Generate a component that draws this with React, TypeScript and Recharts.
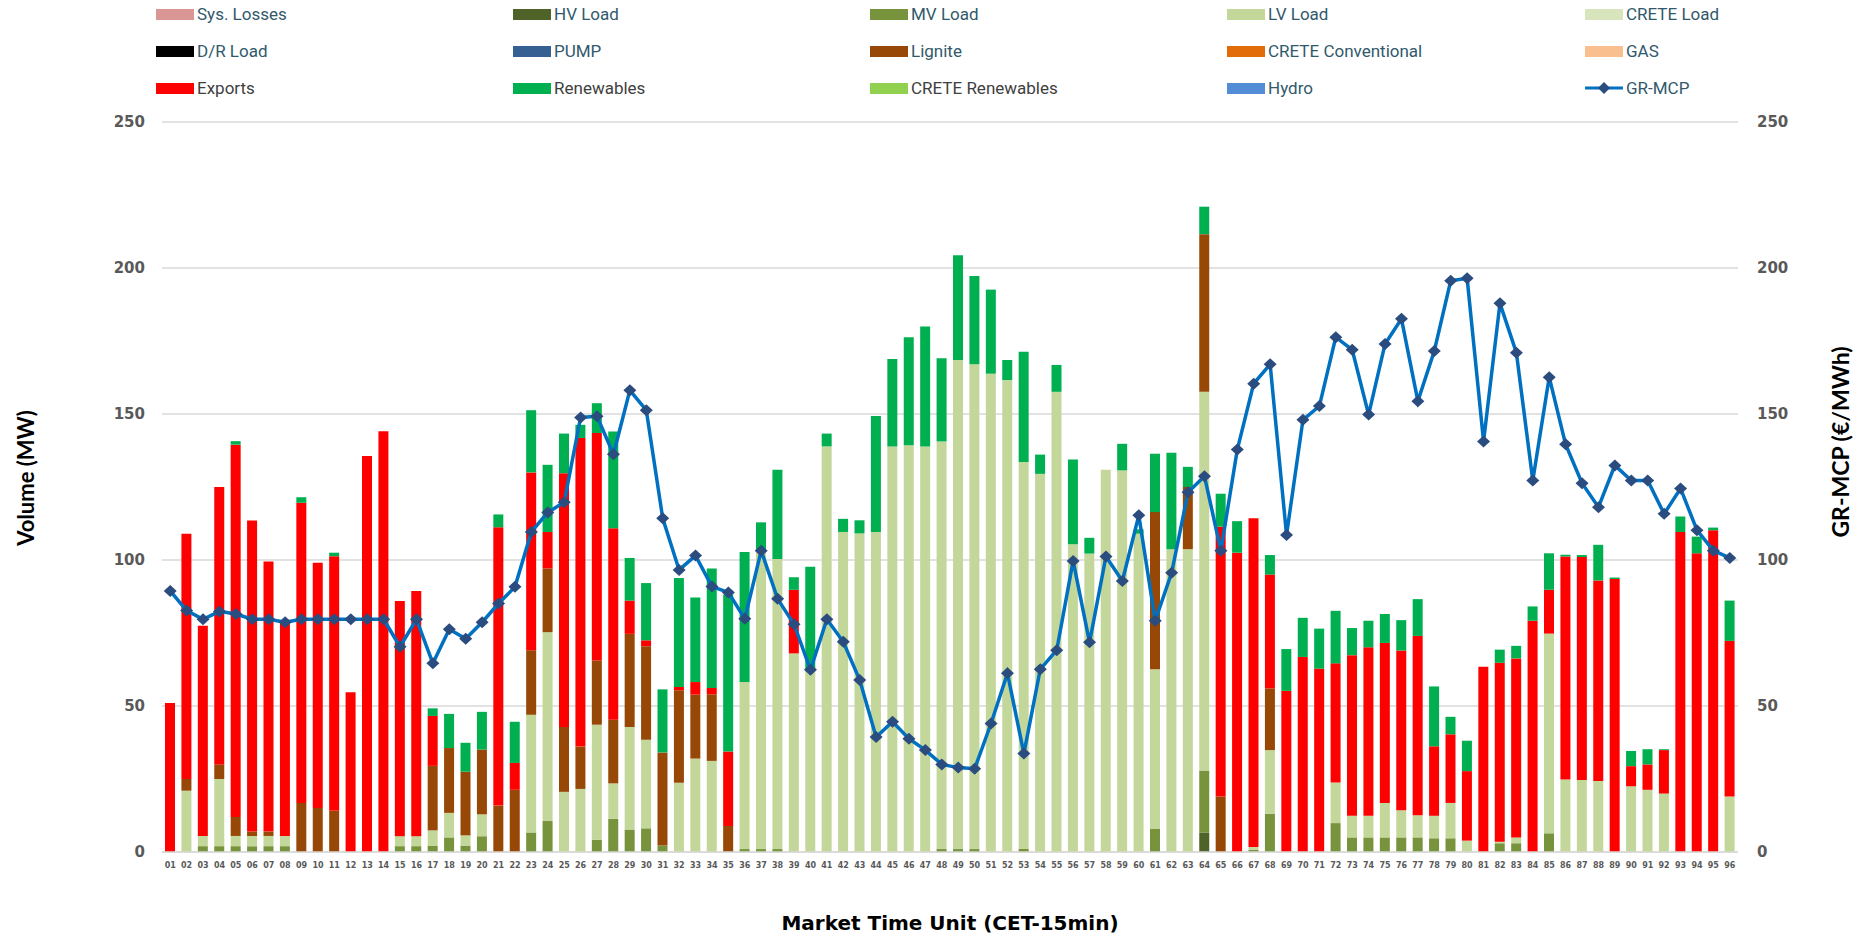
import { ComposedChart, Bar, Line, XAxis, YAxis, CartesianGrid } from 'recharts';

// market time units, 15-min resolution
const mtu = [
  '01', '02', '03', '04', '05', '06', '07', '08', '09', '10', '11', '12',
  '13', '14', '15', '16', '17', '18', '19', '20', '21', '22', '23', '24',
  '25', '26', '27', '28', '29', '30', '31', '32', '33', '34', '35', '36',
  '37', '38', '39', '40', '41', '42', '43', '44', '45', '46', '47', '48',
  '49', '50', '51', '52', '53', '54', '55', '56', '57', '58', '59', '60',
  '61', '62', '63', '64', '65', '66', '67', '68', '69', '70', '71', '72',
  '73', '74', '75', '76', '77', '78', '79', '80', '81', '82', '83', '84',
  '85', '86', '87', '88', '89', '90', '91', '92', '93', '94', '95', '96',
];

const hvLoad = [
  0, 0, 0, 0, 0, 0, 0, 0, 0, 0, 0, 0,
  0, 0, 0, 0, 0, 0, 0, 0, 0, 0, 0, 0,
  0, 0, 0, 0, 0, 0, 0, 0, 0, 0, 0, 0,
  0, 0, 0, 0, 0, 0, 0, 0, 0, 0, 0, 0,
  0, 0, 0, 0, 0, 0, 0, 0, 0, 0, 0, 0,
  0, 0, 0, 6.7, 0, 0, 0, 0, 0, 0, 0, 0,
  0, 0, 0, 0, 0, 0, 0, 0, 0, 0, 0, 0,
  0, 0, 0, 0, 0, 0, 0, 0, 0, 0, 0, 0,
];

const mvLoad = [
  0, 0, 2, 2, 2, 2, 2, 2, 0, 0, 0, 0,
  0, 0, 2, 2, 2.2, 5, 2.2, 5.4, 0, 0, 6.7, 10.6,
  0, 0, 4.2, 11.4, 7.7, 8.1, 2.2, 0, 0, 0, 0, 1,
  1, 1, 0, 0, 0, 0, 0, 0, 0, 0, 0, 1,
  1, 1, 0, 0, 1, 0, 0, 0, 0, 0, 0, 0,
  7.9, 0, 0, 21.2, 0, 0, 0.8, 13.1, 0, 0, 0, 9.9,
  5, 5, 5, 5, 5, 4.7, 4.7, 0, 0, 3, 3, 0,
  6.4, 0, 0, 0, 0, 0, 0, 0, 0, 0, 0, 0,
];

const lvLoad = [
  0, 21, 3.5, 23, 3.5, 3.5, 3.5, 3.5, 0, 0, 0, 0,
  0, 0, 3.4, 3.4, 5.2, 8.4, 3.5, 7.5, 0, 0, 40.3, 64.7,
  20.6, 21.6, 39.4, 12.1, 35.1, 30.3, 0, 23.7, 32, 31.2, 0, 57.2,
  102, 99.3, 68, 62, 138.9, 109.6, 109.1, 109.6, 138.9, 139.3, 138.9, 139.6,
  167.5, 166, 163.8, 161.6, 132.6, 129.5, 157.6, 105.4, 102.2, 130.9, 130.7, 109,
  54.7, 103.7, 103.7, 129.7, 0, 0, 0.9, 21.8, 0, 0, 0, 13.9,
  7.4, 7.4, 11.8, 9.3, 7.6, 7.7, 12.1, 3.9, 0, 0.5, 2, 0,
  68.4, 24.8, 24.7, 24.3, 0, 22.5, 21.3, 20, 0, 0, 0, 19,
];

const lignite = [
  0, 4, 0, 5, 6.5, 1.5, 1.5, 0, 16.8, 15.1, 14.1, 0,
  0, 0, 0, 0, 22.1, 22.2, 21.8, 22.2, 15.9, 21.3, 22.1, 21.8,
  22.2, 14.5, 22, 21.8, 31.9, 32.1, 31.9, 31.7, 21.9, 22.8, 8.9, 0,
  0, 0, 0, 0, 0, 0, 0, 0, 0, 0, 0, 0,
  0, 0, 0, 0, 0, 0, 0, 0, 0, 0, 0, 0,
  53.8, 0, 21.3, 54, 19, 0, 0, 21.1, 0, 0, 0, 0,
  0, 0, 0, 0, 0, 0, 0, 0, 0, 0, 0, 0,
  0, 0, 0, 0, 0, 0, 0, 0, 0, 0, 0, 0,
];

const exportsMw = [
  51, 84, 72, 95, 127.5, 106.5, 92.5, 73, 102.8, 84, 87.2, 54.7,
  135.6, 144.1, 80.6, 84, 17.1, 0, 0, 0, 95.3, 9.2, 60.9, 12.5,
  86.9, 105.7, 77.9, 65.6, 11.4, 2, 0, 1.1, 4.3, 2.2, 25.5, 0,
  0, 0, 21.8, 0, 0, 0, 0, 0, 0, 0, 0, 0,
  0, 0, 0, 0, 0, 0, 0, 0, 0, 0, 0, 0,
  0, 0, 0, 0, 92.4, 102.5, 112.6, 39, 55.2, 66.8, 62.8, 40.8,
  55, 57.7, 54.8, 54.7, 61.4, 23.8, 23.5, 23.8, 63.4, 61.3, 61.3, 79.2,
  15, 76.4, 76.3, 68.7, 93.5, 6.9, 8.7, 14.9, 109.6, 102.3, 110.2, 53.3,
];

const renewables = [
  0, 0, 0, 0, 1.2, 0, 0, 0, 1.9, 0, 1.2, 0,
  0, 0, 0, 0, 2.6, 11.7, 9.9, 12.9, 4.4, 14.1, 21.3, 23,
  13.6, 4.5, 10.2, 33.1, 14.6, 19.6, 21.6, 37.3, 29, 40.9, 53.7, 44.5,
  9.9, 30.6, 4.3, 35.7, 4.4, 4.5, 4.5, 39.7, 29.9, 37, 41.1, 28.5,
  35.9, 30.3, 28.8, 6.9, 37.7, 6.6, 9.2, 29, 5.4, 0, 9.1, 1.5,
  20, 33, 6.9, 9.4, 11.3, 10.8, 0, 6.7, 14.3, 13.4, 13.7, 18,
  9.3, 9.1, 9.9, 10.4, 12.6, 20.5, 6, 10.4, 0, 4.5, 4.3, 4.9,
  12.5, 0.6, 0.7, 12.2, 0.5, 5.2, 5.2, 0.3, 5.3, 5.7, 0.9, 13.8,
];

// GR-MCP in €/MWh
const grMcp = [
  89.4, 82.7, 79.7, 82.4, 81.5, 79.7, 79.7, 78.7, 79.7, 79.7, 79.7, 79.7,
  79.7, 79.7, 70.3, 79.7, 64.6, 76.3, 73, 78.7, 85.1, 90.8, 109.6, 116.3,
  119.8, 148.8, 149.2, 136.2, 158.1, 151.3, 114.3, 96.6, 101.5, 90.9, 88.9, 79.9,
  103.2, 86.7, 78, 62.4, 79.7, 72, 58.9, 39.4, 44.6, 38.8, 34.9, 30,
  28.9, 28.5, 44, 61.2, 33.7, 62.6, 69.1, 99.7, 71.8, 101.2, 92.8, 115.3,
  79.2, 95.6, 123.2, 128.7, 103.2, 137.8, 160.4, 167, 108.6, 148, 152.7, 176.3,
  172, 149.8, 174, 182.6, 154.4, 171.6, 195.6, 196.5, 140.6, 187.9, 171, 127.2,
  162.6, 139.6, 126.3, 118.1, 132.4, 127.2, 127.2, 115.8, 124.5, 110.2, 103.2, 100.7,
];

const axisTicks = [0, 50, 100, 150, 200, 250];

const legendItems = [
  { name: 'Sys. Losses', color: '#DA9694' },
  { name: 'HV Load', color: '#4F6228' },
  { name: 'MV Load', color: '#77933C' },
  { name: 'LV Load', color: '#C4D79B' },
  { name: 'CRETE Load', color: '#D8E4BC' },
  { name: 'D/R Load', color: '#000000' },
  { name: 'PUMP', color: '#366092' },
  { name: 'Lignite', color: '#974706' },
  { name: 'CRETE Conventional', color: '#E26B0A' },
  { name: 'GAS', color: '#FABF8F' },
  { name: 'Exports', color: '#FF0000' },
  { name: 'Renewables', color: '#00B050' },
  { name: 'CRETE Renewables', color: '#92D050' },
  { name: 'Hydro', color: '#538DD5' },
  { name: 'GR-MCP', color: '#0070C0' },
];

const data = mtu.map((m, i) => ({
  mtu: m,
  hv: hvLoad[i],
  mv: mvLoad[i],
  lv: lvLoad[i],
  lignite: lignite[i],
  exports: exportsMw[i],
  renewables: renewables[i],
  mcp: grMcp[i],
}));

const tickStyle = { fill: '#595959', fontSize: 15, fontWeight: 700, fontFamily: 'DejaVu Sans' };

function Diamond(props: any) {
  const { cx, cy, index } = props;
  if (cx == null || cy == null) return null;
  return (
    <path
      key={index}
      d={`M${cx},${cy - 6} L${cx + 6.5},${cy} L${cx},${cy + 6} L${cx - 6.5},${cy} Z`}
      fill="#2B4C7E"
    />
  );
}

function Legend() {
  const colX = [156, 513, 870, 1227, 1585];
  const rowY = [14, 51, 88];
  return (
    <>
      {legendItems.map((item, i) => {
        const x = colX[i % 5];
        const y = rowY[Math.floor(i / 5)];
        const isLine = item.name === 'GR-MCP';
        const grey = item.name === 'Exports' || item.name.includes('Renewables');
        return (
          <div
            key={item.name}
            style={{ position: 'absolute', left: x, top: y - 12, height: 24, display: 'flex', alignItems: 'center' }}
          >
            {isLine ? (
              <svg width={38} height={14}>
                <line x1={0} y1={7} x2={38} y2={7} stroke="#0070C0" strokeWidth={3} />
                <path d="M19,1 L25,7 L19,13 L13,7 Z" fill="#2B4C7E" />
              </svg>
            ) : (
              <div style={{ width: 38, height: 11, background: item.color }} />
            )}
            <span
              style={{
                marginLeft: 3,
                fontFamily: 'Roboto',
                fontSize: 17,
                color: grey ? '#404040' : '#31596B',
                whiteSpace: 'nowrap',
              }}
            >
              {item.name}
            </span>
          </div>
        );
      })}
    </>
  );
}

export default function App() {
  return (
    <div style={{ position: 'absolute', left: 0, top: 0, width: 1872, height: 941, background: '#fff' }}>
      <ComposedChart
        width={1872}
        height={941}
        data={data}
        margin={{ top: 122, right: 0, bottom: 19, left: 0 }}
        barSize={10}
      >
        <CartesianGrid yAxisId="left" vertical={false} stroke="#D9D9D9" strokeWidth={1.5} />
        <XAxis
          dataKey="mtu"
          interval={0}
          tickLine={false}
          axisLine={{ stroke: '#D9D9D9', strokeWidth: 1.5 }}
          height={70}
          tickSize={0}
          tickMargin={10}
          tick={{ fill: '#595959', fontSize: 8, fontWeight: 700, fontFamily: 'DejaVu Sans' }}
        />
        <YAxis
          yAxisId="left"
          domain={[0, 250]}
          ticks={axisTicks}
          width={162}
          axisLine={false}
          tickLine={false}
          tickSize={0}
          tickMargin={17}
          tick={tickStyle}
        />
        <YAxis
          yAxisId="right"
          orientation="right"
          domain={[0, 250]}
          ticks={axisTicks}
          width={134}
          axisLine={false}
          tickLine={false}
          tickSize={0}
          tickMargin={19}
          tick={{ ...tickStyle, textAnchor: 'start' }}
        />
        <Bar yAxisId="left" dataKey="hv" stackId="a" fill="#4F6228" isAnimationActive={false} />
        <Bar yAxisId="left" dataKey="mv" stackId="a" fill="#77933C" isAnimationActive={false} />
        <Bar yAxisId="left" dataKey="lv" stackId="a" fill="#C4D79B" isAnimationActive={false} />
        <Bar yAxisId="left" dataKey="lignite" stackId="a" fill="#974706" isAnimationActive={false} />
        <Bar yAxisId="left" dataKey="exports" stackId="a" fill="#FF0000" isAnimationActive={false} />
        <Bar yAxisId="left" dataKey="renewables" stackId="a" fill="#00B050" isAnimationActive={false} />
        <Line
          yAxisId="right"
          type="linear"
          dataKey="mcp"
          stroke="#0070C0"
          strokeWidth={3.5}
          dot={Diamond}
          activeDot={false}
          isAnimationActive={false}
        />
      </ComposedChart>
      <Legend />
      <svg
        width={1872}
        height={941}
        style={{ position: 'absolute', left: 0, top: 0, pointerEvents: 'none' }}
      >
        <text
          x={25}
          y={478}
          transform="rotate(-90 25 478)"
          textAnchor="middle"
          dominantBaseline="central"
          fontFamily="Lato"
          fontWeight={700}
          fontSize={22}
          fill="#000"
        >
          Volume (MW)
        </text>
        <text
          x={1840}
          y={442}
          transform="rotate(-90 1840 442)"
          textAnchor="middle"
          dominantBaseline="central"
          fontFamily="Lato"
          fontWeight={700}
          fontSize={23}
          fill="#000"
        >
          GR-MCP (€/MWh)
        </text>
        <text
          x={950}
          y={923}
          textAnchor="middle"
          dominantBaseline="central"
          fontFamily="DejaVu Sans"
          fontWeight={700}
          fontSize={20}
          fill="#000"
        >
          Market Time Unit (CET-15min)
        </text>
      </svg>
    </div>
  );
}
